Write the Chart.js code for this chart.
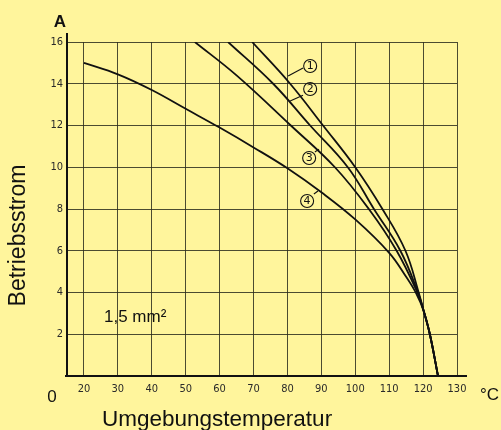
<!DOCTYPE html>
<html>
<head>
<meta charset="utf-8">
<script src="https://cdn.jsdelivr.net/npm/chart.js@4/dist/chart.umd.min.js"></script>
<style>
html, body { margin: 0; padding: 0; background: #fff59c; }
#wrap { width: 501px; height: 430px; }
</style>
</head>
<body>
<div id="wrap"><canvas id="chart" width="501" height="430"></canvas></div>
<script>
// TICKS
const tempTicks = [20, 30, 40, 50, 60, 70, 80, 90, 100, 110, 120, 130];
const ampTicks = [2, 4, 6, 8, 10, 12, 14, 16];

// CURVE 1
const temps1 = [69.6, 80.8, 90.5, 100, 108, 114.8, 118.7, 120.2, 122, 124.4];
const amps1  = [16, 14, 12, 10, 8, 6, 4, 3.1, 2.0, 0];

// CURVE 2
const temps2 = [62.5, 75.8, 86.7, 97.8, 105.5, 113.3, 118.5, 120.2, 122, 124.4];
const amps2  = [16, 14, 12, 10, 8, 6, 4, 3.1, 2.0, 0];

// CURVE 3
const temps3 = [52.7, 65, 81, 94, 104, 112.2, 118.3, 120.2, 122, 124.4];
const amps3  = [16, 14.4, 12, 10, 8, 6, 4, 3.1, 2.0, 0];

// CURVE 4
const temps4 = [20, 30, 40, 50, 60, 70, 80, 90, 100, 110, 115, 118, 120.2, 122, 124.4];
const amps4  = [15.0, 14.45, 13.7, 12.8, 11.9, 10.95, 9.95, 8.8, 7.5, 5.9, 4.75, 3.95, 3.1, 2.0, 0];

const curveNames = ["1", "2", "3", "4"];

// callout circles (in chart units): centre, leader start, leader end
const callouts = [
    { c: [86.7, 14.85], a: [84.6, 14.75], b: [80.2, 14.37] },
    { c: [86.7, 13.75], a: [84.6, 13.45], b: [80.8, 13.17] },
    { c: [86.4, 10.44], a: [88.1, 10.73], b: [89.3, 10.87] },
    { c: [85.8, 8.38],  a: [87.8, 8.72],  b: [89.0, 8.86] }
];

function toPoints(xs, ys) {
    return xs.map((v, i) => ({ x: v, y: ys[i] }));
}

const series = [[temps1, amps1], [temps2, amps2], [temps3, amps3], [temps4, amps4]];

const gridColor = "rgba(45,45,30,0.85)";
const ink = "#111";

// extra drawing: axis stubs, callouts, free texts
const decor = {
    id: "decor",
    afterDraw(chart) {
        const ctx = chart.ctx;
        const a = chart.chartArea;
        const x = chart.scales.x;
        const y = chart.scales.y;
        ctx.save();

        ctx.strokeStyle = ink;
        ctx.lineWidth = 2;
        ctx.beginPath();
        ctx.moveTo(a.left, a.top - 9);
        ctx.lineTo(a.left, a.top);
        ctx.moveTo(a.left - 2, a.bottom);
        ctx.lineTo(a.right + 10, a.bottom);
        ctx.stroke();

        // callouts
        ctx.lineWidth = 1.1;
        ctx.font = '11px "DejaVu Sans"';
        ctx.textAlign = "center";
        ctx.textBaseline = "middle";
        ctx.fillStyle = ink;
        callouts.forEach((c, i) => {
            const cx = x.getPixelForValue(c.c[0]);
            const cy = y.getPixelForValue(c.c[1]);
            ctx.beginPath();
            ctx.arc(cx, cy, 6.5, 0, Math.PI * 2);
            ctx.stroke();
            ctx.fillText(curveNames[i], cx, cy + 0.5);
            ctx.beginPath();
            ctx.moveTo(x.getPixelForValue(c.a[0]), y.getPixelForValue(c.a[1]));
            ctx.lineTo(x.getPixelForValue(c.b[0]), y.getPixelForValue(c.b[1]));
            ctx.stroke();
        });

        // texts
        ctx.textBaseline = "alphabetic";
        ctx.fillStyle = ink;
        ctx.font = 'bold 17px "Liberation Sans"';
        ctx.textAlign = "center";
        ctx.fillText("A", 60, 27);

        ctx.font = '17px "Liberation Sans"';
        ctx.fillText("0", 52, 402);
        ctx.textAlign = "left";
        ctx.fillText("°C", 480, 400);
        ctx.fillText("1,5 mm²", 104, 322);

        ctx.font = '22.5px "Liberation Sans"';
        ctx.fillText("Umgebungstemperatur", 102, 426);

        ctx.translate(25, 235.5);
        ctx.rotate(-Math.PI / 2);
        ctx.textAlign = "center";
        ctx.font = '23px "Liberation Sans"';
        ctx.fillText("Betriebsstrom", 0, 0);

        ctx.restore();
    }
};

new Chart(document.getElementById("chart"), {
    type: "line",
    data: {
        datasets: series.map((s, i) => ({
            label: curveNames[i],
            data: toPoints(s[0], s[1]),
            borderColor: ink,
            borderWidth: 1.8,
            pointRadius: 0,
            fill: false,
            tension: 0.4
        }))
    },
    options: {
        responsive: false,
        animation: false,
        layout: { padding: { top: 42, right: 44, left: 0, bottom: 0 } },
        plugins: {
            legend: { display: false },
            tooltip: { enabled: false }
        },
        scales: {
            x: {
                type: "linear",
                min: 15,
                max: 130,
                afterBuildTicks: s => { s.ticks = tempTicks.map(v => ({ value: v })); },
                afterFit: s => { s.height = 54; },
                grid: { color: gridColor, lineWidth: 1, drawTicks: false },
                border: { color: ink, width: 2 },
                ticks: {
                    padding: 7,
                    color: "#2a2a2a",
                    maxRotation: 0,
                    autoSkip: false,
                    font: { family: "DejaVu Sans Condensed", size: 11 }
                }
            },
            y: {
                min: 0,
                max: 16,
                afterBuildTicks: s => { s.ticks = ampTicks.map(v => ({ value: v })); },
                afterFit: s => { s.width = 67; },
                grid: { color: gridColor, lineWidth: 1, drawTicks: false },
                border: { color: ink, width: 2 },
                ticks: {
                    padding: 4,
                    color: "#2a2a2a",
                    font: { family: "DejaVu Sans Condensed", size: 11 }
                }
            }
        }
    },
    plugins: [decor]
});
</script>
</body>
</html>
